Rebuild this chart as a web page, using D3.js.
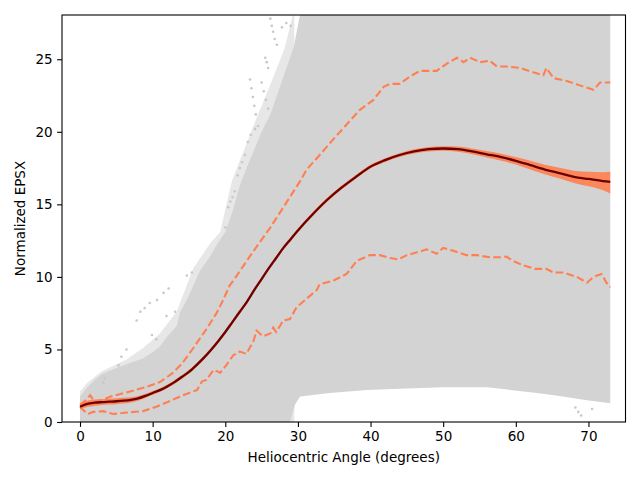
<!DOCTYPE html>
<html>
<head>
<meta charset="utf-8">
<script src="https://cdn.jsdelivr.net/npm/d3@7"></script>
<style>
  html, body { margin: 0; padding: 0; background: #fff; }
  svg { display: block; font-family: "DejaVu Sans", sans-serif; }
</style>
</head>
<body>
<svg id="chart" width="640" height="480"></svg>
<script>
// ---- data ----
const xTicks = [0, 10, 20, 30, 40, 50, 60, 70];
const yTicks = [0, 5, 10, 15, 20, 25];

// mean curve
const meanX = [0,1,2,3,4,5,6,7,8,9,10,11,12,13,14,15,16,17,18,19,20,21,22,23,24,25,26,27,28,29,30,32,34,36,38,40,42,44,46,48,50,52,54,56,58,60,62,64,66,68,70,72,73];
const meanY = [1.05,1.25,1.33,1.37,1.40,1.43,1.47,1.53,1.63,1.80,2.0,2.2,2.45,2.75,3.1,3.45,3.9,4.4,4.95,5.55,6.2,6.9,7.6,8.3,9.1,9.85,10.6,11.3,12.0,12.6,13.2,14.3,15.3,16.15,16.9,17.6,18.05,18.4,18.65,18.8,18.85,18.8,18.65,18.45,18.25,18.0,17.7,17.4,17.15,16.9,16.75,16.6,16.55];
// confidence band around the mean
const bandLo = [0.87,1.03,1.11,1.17,1.20,1.23,1.27,1.35,1.47,1.66,1.87,2.07,2.32,2.62,2.97,3.32,3.77,4.27,4.82,5.42,6.07,6.77,7.47,8.17,8.97,9.72,10.47,11.17,11.87,12.47,13.07,14.17,15.17,16.02,16.77,17.47,17.92,18.27,18.51,18.65,18.69,18.62,18.45,18.23,18.01,17.74,17.4,17.07,16.78,16.48,16.25,15.98,15.75];
const bandHi = [1.23,1.47,1.55,1.57,1.60,1.63,1.67,1.71,1.79,1.94,2.13,2.33,2.58,2.88,3.23,3.58,4.03,4.53,5.08,5.68,6.33,7.03,7.73,8.43,9.23,9.98,10.73,11.43,12.13,12.73,13.33,14.43,15.43,16.28,17.03,17.73,18.18,18.53,18.79,18.95,19.01,18.98,18.85,18.67,18.49,18.26,18.0,17.73,17.52,17.32,17.25,17.22,17.25];

// upper / lower percentile curves (dashed)
const upperX = [0,0.7,1.4,2,3,4.2,6.5,9,11,12.7,14,15.6,17.4,18.8,19.7,20.6,21.6,23.9,26.2,28,30.3,31.2,33,34.9,36.7,38.5,40.4,41.8,42.7,44,45.4,46.8,49.1,50.5,51.9,52.8,53.7,55.1,56.4,57.4,58.7,60.6,62.4,63.8,64.2,65.2,67,68.8,70.7,71.6,73];
const upperY = [1.2,1.45,1.85,1.4,1.5,1.75,2.05,2.4,2.75,3.35,4.0,5.1,6.4,7.5,8.4,9.4,10.1,11.8,13.4,14.8,16.6,17.4,18.4,19.5,20.5,21.5,22.2,23.1,23.3,23.3,23.8,24.2,24.2,24.7,25.1,24.8,25.1,24.8,24.9,24.5,24.5,24.4,24.1,23.9,24.4,23.7,23.5,23.2,22.9,23.4,23.4];
const lowerX = [0,0.5,1.1,1.8,3.2,4.6,6.4,8.7,10.6,12.4,14.2,16.1,16.8,17.4,18.4,19.3,20.2,21.1,22,22.9,23.9,24.3,25.2,26.2,26.6,27,28,28.9,29.8,31.2,32.6,33,34.9,36.7,38.1,39.9,41.3,42.7,43.8,45,46.8,47.7,49.1,50,51.4,53.2,54.6,56.4,57.8,58.7,59.6,61,62.6,64.2,65.2,66.5,68.4,69.8,70.7,71.8,72.7,73];
const lowerY = [1.05,0.8,0.55,0.7,0.75,0.55,0.65,0.75,1.07,1.45,1.85,2.2,2.8,2.9,3.6,3.4,3.95,4.6,4.85,4.7,5.6,6.3,5.9,6.1,6.5,6.2,7.0,7.1,7.9,8.5,9.1,9.5,9.75,10.2,11.1,11.5,11.5,11.3,11.2,11.5,11.75,11.9,11.6,12.0,11.8,11.5,11.5,11.35,11.35,11.4,11.1,10.8,10.55,10.55,10.3,10.3,10.0,9.6,10.0,10.2,9.4,9.3];

// envelope of the dense cloud of individual profiles (grey)
const cloudTopX = [0,1,2,3,4.4,6.5,8.7,10,11,12,13.3,13.8,14.7,15.6,16.5,17.9,18.8,20,21,22,23,24.1,25,26.2,27.8,29.4,30.3,73];
const cloudTopY = [1.75,2.4,2.9,3.3,3.6,4.0,4.4,4.8,5.2,5.9,6.6,7.6,8.4,9.4,10.4,11.4,12.2,13.1,14.5,16.3,17.6,18.9,20.0,21.2,23.5,25.8,28.1,28.1];
const cloudBotX = [73,69.8,66,62.9,56,50,44,39.5,34.4,30.3,29.6,28.9,0];
const cloudBotY = [1.3,1.5,1.8,2.0,2.4,2.4,2.3,2.2,2.0,1.75,1.2,0,0];
// outer limit of the thinner fringe of the cloud
const fringeX = [0,1,3,6.4,8.7,11,13.3,15.6,17.9,19.3,20.9,22.7,24.5,26.4,28.2,29.3];
const fringeY = [2.1,2.7,3.5,4.3,5.1,6.1,7.6,10.6,12.3,13.1,16.6,18.9,21.2,23.5,25.8,28.1];

// sparse outlying samples (grey)
const sparseX = [26.2,26.4,26.6,26.8,27.1,25.5,25.7,25.9,27.8,28.4,29.0,23.4,23.6,23.8,24.0,24.2,24.5,25.0,25.3,25.6,25.9,23.1,23.5,24.1,21.7,22.0,22.3,22.7,20.4,20.7,21.0,21.3,20.0,3.2,3.4,5.3,5.7,6.4,7.8,8.3,8.9,9.6,10.6,11.5,12.2,9.9,10.5,14.7,15.4,11.9,13.1,68.2,68.6,69.0,70.5];
const sparseY = [27.8,27.3,26.9,26.4,26.0,25.1,24.8,24.4,27.2,27.5,27.3,23.6,23.0,22.4,21.8,21.2,20.4,23.4,22.8,22.2,21.6,19.3,19.8,20.2,17.0,17.5,17.9,18.4,14.8,15.2,15.5,15.9,13.4,2.7,3.0,3.9,4.5,5.0,7.0,7.6,7.85,8.2,8.4,8.9,9.2,6.0,5.7,10.1,10.3,7.3,7.6,1.0,0.7,0.45,0.9];

// ---- layout ----
const L = 62, R = 625.5, T = 15, B = 422;
const svg = d3.select("#chart");
const x = d3.scaleLinear().domain([-2.48, 75.1]).range([L, R]);
const y = d3.scaleLinear().domain([0, 28.05]).range([B, T]);

svg.append("defs").append("clipPath").attr("id", "clip")
  .append("rect").attr("x", L).attr("y", T).attr("width", R - L).attr("height", B - T);

const plot = svg.append("g").attr("clip-path", "url(#clip)");
const poly = d3.line().x(d => x(d[0])).y(d => y(d[1]));

// thin fringe of the cloud
const fringePts = fringeX.map((d, i) => [d, fringeY[i]]).concat([[29.5, 28.1], [29.5, 0], [0, 0]]);
plot.append("path").attr("d", poly(fringePts) + "Z").attr("fill", "#d3d3d3").attr("opacity", 0.55);

// dense grey cloud
const cloudPts = cloudTopX.map((d, i) => [d, cloudTopY[i]])
  .concat(cloudBotX.map((d, i) => [d, cloudBotY[i]]));
plot.append("path").attr("d", poly(cloudPts) + "Z").attr("fill", "#d3d3d3");

// sparse points
plot.selectAll("circle.sp").data(sparseX.map((d, i) => [d, sparseY[i]]))
  .join("circle").attr("class", "sp")
  .attr("cx", d => x(d[0])).attr("cy", d => y(d[1]))
  .attr("r", 1.3).attr("fill", "#c8c8c8");

// band
plot.append("path")
  .attr("d", d3.area().x((d, i) => x(meanX[i])).y0((d, i) => y(bandLo[i])).y1((d, i) => y(bandHi[i])).curve(d3.curveMonotoneX)(meanX))
  .attr("fill", "#ff7f50").attr("opacity", 0.9);

// dashed percentiles
[[upperX, upperY], [lowerX, lowerY]].forEach(([xs, ys]) => {
  plot.append("path")
    .attr("d", poly(xs.map((d, i) => [d, ys[i]])))
    .attr("fill", "none").attr("stroke", "#ff7f50")
    .attr("stroke-width", 2.1).attr("stroke-dasharray", "7.7,3.3");
});

// mean line
plot.append("path")
  .attr("d", d3.line().x((d, i) => x(meanX[i])).y((d, i) => y(meanY[i])).curve(d3.curveMonotoneX)(meanX))
  .attr("fill", "none").attr("stroke", "#6e0000").attr("stroke-width", 2.3);

// axes
const fs = "13.5px";
const xAxis = svg.append("g").attr("transform", `translate(0,${B})`)
  .call(d3.axisBottom(x).tickValues(xTicks).tickSize(4.9).tickPadding(4.5).tickFormat(d3.format("d")));
const yAxis = svg.append("g").attr("transform", `translate(${L},0)`)
  .call(d3.axisLeft(y).tickValues(yTicks).tickSize(4.9).tickPadding(4.5).tickFormat(d3.format("d")));
[xAxis, yAxis].forEach(a => {
  a.select(".domain").remove();
  a.selectAll("line").attr("stroke", "#000").attr("stroke-width", 1.1);
  a.selectAll("text").attr("fill", "#000").style("font-size", fs).style("font-family", "DejaVu Sans");
});

// frame
svg.append("rect").attr("x", L).attr("y", T).attr("width", R - L).attr("height", B - T)
  .attr("fill", "none").attr("stroke", "#000").attr("stroke-width", 1.1);

// labels
svg.append("text").attr("x", (L + R) / 2).attr("y", 462).attr("text-anchor", "middle")
  .style("font-size", fs).text("Heliocentric Angle (degrees)");
svg.append("text").attr("transform", `translate(25,${(T + B) / 2}) rotate(-90)`)
  .attr("text-anchor", "middle").style("font-size", fs).text("Normalized EPSX");
</script>
</body>
</html>
